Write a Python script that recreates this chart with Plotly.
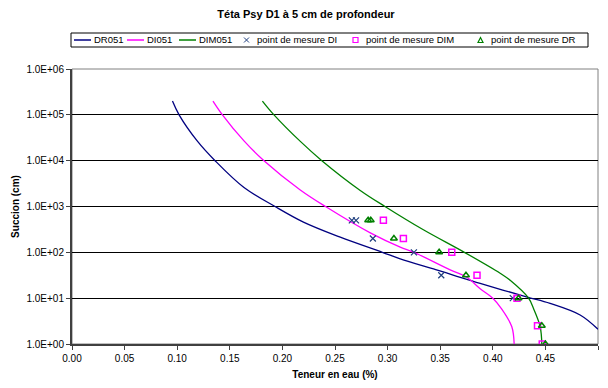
import plotly.graph_objects as go

# curves (teneur en eau, succion en cm)
dr_theta = [0.0955, 0.1018, 0.119, 0.136, 0.1635, 0.193, 0.220, 0.255, 0.295,
            0.312, 0.3457, 0.363, 0.388, 0.432, 0.4545, 0.483, 0.500]
dr_h = [2e5, 1e5, 2.7e4, 1e4, 2.6e3, 1e3, 457, 214, 100,
        72, 42, 31.6, 21, 10.7, 7.7, 4.3, 2.1]

di_theta = [0.134, 0.143, 0.1635, 0.1825, 0.217, 0.241, 0.284, 0.312, 0.325,
            0.360, 0.375, 0.388, 0.400, 0.408, 0.418, 0.4203]
di_h = [2e5, 1e5, 2.7e4, 1e4, 2300, 1000, 263, 130, 100,
        41, 29, 16, 10, 6, 2.4, 1]

dim_theta = [0.181, 0.192, 0.2173, 0.2375, 0.274, 0.2975, 0.334, 0.373,
             0.407, 0.4165, 0.434, 0.4386, 0.445, 0.4466]
dim_h = [2e5, 1e5, 2.6e4, 1e4, 2240, 1000, 310, 100,
         35, 24.5, 10, 6, 2.4, 1]

# measured points
mes_di_theta = [0.266, 0.270, 0.286, 0.325, 0.351, 0.419]
mes_di_h = [500, 500, 200, 100, 31.6, 10]
mes_dim_theta = [0.296, 0.315, 0.361, 0.385, 0.423, 0.4425, 0.447]
mes_dim_h = [500, 200, 100, 31.6, 10, 2.5, 1]
mes_dr_theta = [0.2815, 0.284, 0.306, 0.349, 0.3745, 0.4245, 0.4466, 0.450]
mes_dr_h = [500, 500, 200, 100, 31.6, 10, 2.5, 1]

y_ticks = [1, 10, 100, 1000, 1e4, 1e5, 1e6]
y_labels = ["1.0E+00", "1.0E+01", "1.0E+02", "1.0E+03", "1.0E+04", "1.0E+05", "1.0E+06"]

navy, pink, green, cross = "#000080", "#FF00FF", "#008000", "#1F3F7F"

# figure size / plot area in pixels (page body adds an 8px offset)
W, H = 600, 380
L, R, T, B = 64, 10, 61, 44
pw, ph = W - L - R, H - T - B


def px(x):
    return (x - L) / pw


def py(y):
    return (H - B - y) / ph


fig = go.Figure()
fig.add_trace(go.Scatter(x=dr_theta, y=dr_h, mode="lines", name="DR051",
                         line=dict(color=navy, width=1.3, shape="spline")))
fig.add_trace(go.Scatter(x=di_theta, y=di_h, mode="lines", name="DI051",
                         line=dict(color=pink, width=1.3, shape="spline")))
fig.add_trace(go.Scatter(x=dim_theta, y=dim_h, mode="lines", name="DIM051",
                         line=dict(color=green, width=1.3, shape="spline")))
fig.add_trace(go.Scatter(x=mes_di_theta, y=mes_di_h, mode="markers", name="point de mesure DI",
                         marker=dict(symbol="x-thin", size=6, line=dict(color=cross, width=1.2))))
fig.add_trace(go.Scatter(x=mes_dim_theta, y=mes_dim_h, mode="markers", name="point de mesure DIM",
                         marker=dict(symbol="square-open", size=6, color=pink, line=dict(width=1.5))))
fig.add_trace(go.Scatter(x=mes_dr_theta, y=mes_dr_h, mode="markers", name="point de mesure DR",
                         marker=dict(symbol="triangle-up-open", size=6, color=green, line=dict(width=1.5))))

# thin grey frame on top and right
fig.add_shape(type="rect", xref="paper", yref="paper", x0=0, y0=0, x1=1, y1=1,
              line=dict(color="#808080", width=1), layer="below")

# one-row boxed legend like the Excel original (plotly's own would wrap)
leg_y = 32
fig.add_shape(type="rect", xref="paper", yref="paper", x0=px(63), x1=px(580),
              y0=py(leg_y - 7), y1=py(leg_y + 7), line=dict(color="black", width=1),
              fillcolor="white")
legend_items = [("DR051", navy, "line", 66), ("DI051", pink, "line", 119),
                ("DIM051", green, "line", 171), ("point de mesure DI", cross, "x", 236),
                ("point de mesure DIM", pink, "square", 345), ("point de mesure DR", green, "tri", 470)]
for name, col, kind, x0 in legend_items:
    if kind == "line":
        fig.add_shape(type="line", xref="paper", yref="paper", x0=px(x0), x1=px(x0 + 17),
                      y0=py(leg_y), y1=py(leg_y), line=dict(color=col, width=1.5))
        tx = x0 + 18
    elif kind == "x":
        for s in (-1, 1):
            fig.add_shape(type="line", xref="paper", yref="paper", x0=px(x0), x1=px(x0 + 5),
                          y0=py(leg_y - 2.5 * s), y1=py(leg_y + 2.5 * s),
                          line=dict(color=col, width=1))
        tx = x0 + 11
    elif kind == "square":
        fig.add_shape(type="rect", xref="paper", yref="paper", x0=px(x0), x1=px(x0 + 5),
                      y0=py(leg_y - 2.5), y1=py(leg_y + 2.5), line=dict(color=col, width=1.2))
        tx = x0 + 11
    else:
        path = "M %f %f L %f %f L %f %f Z" % (px(x0), py(leg_y + 2.5), px(x0 + 5), py(leg_y + 2.5),
                                              px(x0 + 2.5), py(leg_y - 2.5))
        fig.add_shape(type="path", xref="paper", yref="paper", path=path,
                      line=dict(color=col, width=1.2))
        tx = x0 + 11
    fig.add_annotation(text=name, xref="paper", yref="paper", x=px(tx), y=py(leg_y),
                       xanchor="left", yanchor="middle", showarrow=False,
                       font=dict(size=9.5))

fig.update_layout(
    width=W, height=H,
    margin=dict(l=L, r=R, t=T, b=B, autoexpand=False),
    paper_bgcolor="white", plot_bgcolor="white",
    font=dict(family="Liberation Sans, Arial, sans-serif", size=10, color="black"),
    title=dict(text="<b>Téta Psy D1 à 5 cm de profondeur</b>", xref="paper", x=px(298),
               xanchor="center", y=1 - 6 / H, yanchor="middle", font=dict(size=11)),
    showlegend=False,
    xaxis=dict(range=[0, 0.5], dtick=0.05, tickformat=".2f", ticks="outside", ticklen=4,
               tickcolor="#404040", showline=True, linecolor="#404040", linewidth=2,
               showgrid=False, zeroline=False, automargin=False,
               title=dict(text="<b>Teneur en eau (%)</b>", standoff=8, font=dict(size=10))),
    yaxis=dict(type="log", range=[0, 6], tickvals=y_ticks, ticktext=y_labels,
               ticks="outside", ticklen=4, tickcolor="#404040",
               showline=True, linecolor="#404040", linewidth=2, automargin=False,
               showgrid=True, gridcolor="black", gridwidth=1, zeroline=False,
               title=dict(text="<b>Succion (cm)</b>", standoff=5, font=dict(size=10))),
)

fig.write_html("out.html")
